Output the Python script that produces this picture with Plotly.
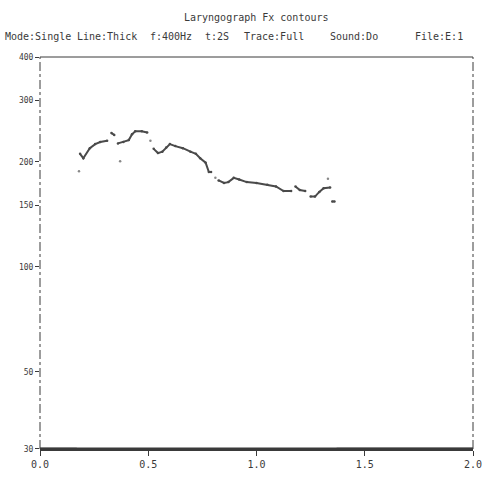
import plotly.graph_objects as go

# Fx contour (time in s, frequency in Hz); None marks gaps in the voiced trace
time_s = [0.185, 0.20, 0.23, 0.255, 0.278, 0.31, None,
          0.33, 0.343, None,
          0.36, 0.385, 0.41, 0.425, 0.44, 0.47, 0.495, None,
          0.525, 0.545, 0.565, 0.583, 0.60, 0.625, 0.66, 0.695, 0.72, 0.74, 0.765, 0.78, 0.79, None,
          0.825, 0.85, 0.87, 0.895, 0.92, 0.955, 1.0, 1.05, 1.09, 1.125, 1.16, None,
          1.18, 1.20, 1.225, None,
          1.25, 1.27, 1.29, 1.31, 1.34, None,
          1.35, 1.36]
fx_hz = [211, 205, 219, 225, 228, 230, None,
         242, 239, None,
         226, 228, 231, 240, 245, 245, 243, None,
         218, 212, 214, 220, 225, 222, 219, 214, 211, 205, 199, 187, 187, None,
         177, 174, 175, 180, 178, 175, 174, 172, 170, 165, 165, None,
         170, 166, 165, None,
         159, 159, 164, 168, 169, None,
         154, 154]

# isolated stray points
stray_t = [0.18, 0.37, 0.51, 0.81, 1.33]
stray_f = [188, 201, 230, 180, 179]

# baseline (unvoiced) segments at the floor of the scale
base_t = [0.0, 0.17, None, 1.37, 2.0]
base_f = [30, 30, None, 30, 30]

x_ticks = [0.0, 0.5, 1.0, 1.5, 2.0]
x_labels = ["0.0", "0.5", "1.0", "1.5", "2.0"]
y_ticks = [30, 50, 100, 150, 200, 300, 400]
y_labels = ["30", "50", "100", "150", "200", "300", "400"]

title = "Laryngograph Fx contours"
info_fields = ["Mode:Single", "Line:Thick", "f:400Hz", "t:2S", "Trace:Full", "Sound:Do", "File:E:1"]
info_x = [3, 75, 148, 203, 242, 328, 413]

ink = "#3a3a3a"

fig = go.Figure()
fig.add_trace(go.Scatter(x=time_s, y=fx_hz, mode="lines+markers",
                         line=dict(color="#4a4a4a", width=2), marker=dict(color="#4a4a4a", size=2.5),
                         connectgaps=False, showlegend=False))
fig.add_trace(go.Scatter(x=stray_t, y=stray_f, mode="markers",
                         marker=dict(color="#888", size=2.5), showlegend=False))
fig.add_trace(go.Scatter(x=base_t, y=base_f, mode="lines",
                         line=dict(color=ink, width=2.4), connectgaps=False, showlegend=False))

L, R, T, B = 40, 31, 57, 29
W, H = 504, 482
ph = H - T - B
pw = W - L - R

fig.update_layout(
    width=W, height=H,
    margin=dict(l=L, r=R, t=T, b=B),
    paper_bgcolor="white", plot_bgcolor="white",
    font=dict(family="DejaVu Sans Mono", size=9, color=ink),
    xaxis=dict(range=[0, 2], tickvals=x_ticks, ticktext=x_labels, showgrid=False,
               zeroline=False, showline=True, linecolor=ink, linewidth=1.5,
               ticks="outside", ticklen=5, tickcolor=ink, tickfont=dict(size=10)),
    yaxis=dict(type="log", range=[1.4771, 2.6021], tickvals=y_ticks, ticktext=y_labels,
               showgrid=False, zeroline=False, showline=False,
               ticks="outside", ticklen=4, tickcolor=ink, tickfont=dict(size=8)),
    shapes=[
        dict(type="line", xref="paper", yref="paper", x0=0, x1=0, y0=0, y1=1,
             line=dict(color=ink, width=1, dash="dashdot")),
        dict(type="line", xref="paper", yref="paper", x0=1, x1=1, y0=0, y1=1,
             line=dict(color=ink, width=1, dash="dashdot")),
        dict(type="line", xref="paper", yref="paper", x0=0, x1=1, y0=1, y1=1,
             line=dict(color=ink, width=1)),
        dict(type="line", xref="paper", yref="paper", x0=0, x1=1, y0=0.002, y1=0.002,
             layer="above", line=dict(color=ink, width=1.4)),
    ],
)

annotations = [dict(text=title, xref="paper", yref="paper", x=0.5, y=1 + 40 / ph,
                    xanchor="center", yanchor="middle", showarrow=False,
                    font=dict(size=10, color=ink))]
for txt, px in zip(info_fields, info_x):
    annotations.append(dict(text=txt, xref="paper", yref="paper",
                            x=(px - L) / pw, y=1 + 21 / ph, xanchor="left", yanchor="middle",
                            showarrow=False, font=dict(size=10, color=ink)))
fig.update_layout(annotations=annotations)

fig.write_html("out.html")
